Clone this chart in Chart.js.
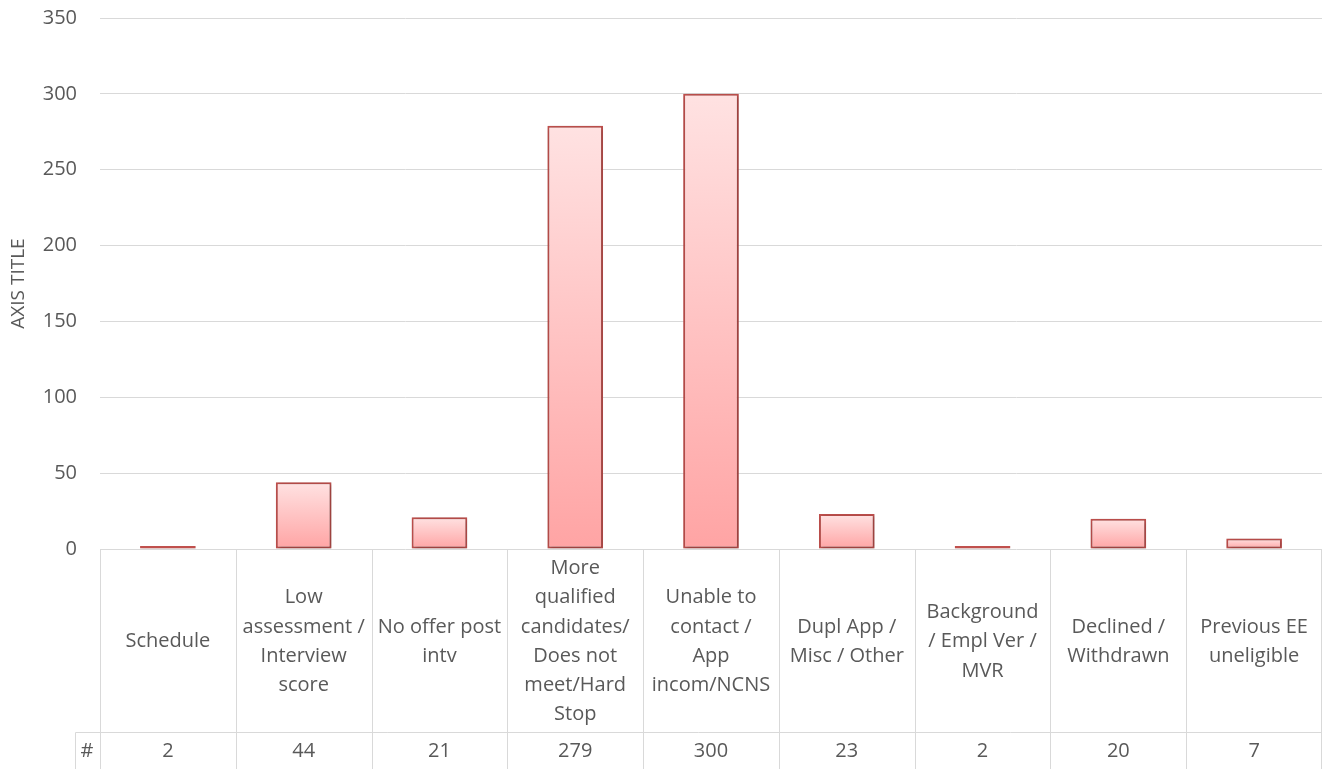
<!DOCTYPE html>
<html>
<head>
<meta charset="utf-8">
<script src="https://cdn.jsdelivr.net/npm/chart.js@4/dist/chart.umd.min.js"></script>
<style>
  html, body { margin: 0; padding: 0; background: #ffffff; }
  #wrap { width: 1327px; height: 769px; }
</style>
</head>
<body>
<div id="wrap"><canvas id="c" width="1327" height="769"></canvas></div>
<script>
// Rejection reasons (wrapped as in the data table) and their counts
const categories = [
  ["Schedule"],
  ["Low", "assessment /", "Interview", "score"],
  ["No offer post", "intv"],
  ["More", "qualified", "candidates/", "Does not", "meet/Hard", "Stop"],
  ["Unable to", "contact /", "App", "incom/NCNS"],
  ["Dupl App /", "Misc / Other"],
  ["Background", "/ Empl Ver /", "MVR"],
  ["Declined /", "Withdrawn"],
  ["Previous EE", "uneligible"]
];
const counts = [2, 44, 21, 279, 300, 23, 2, 20, 7];
const seriesName = "#";
const yTicks = [0, 50, 100, 150, 200, 250, 300, 350];
const axisTitle = "AXIS TITLE";

const TEXT = "#595959";
const GRID = "#d9d9d9";
const FONT = "'Open Sans', 'DejaVu Sans', sans-serif";
const TEXT_SIZE = 20;

// Per-bar vertical gradient, light at the top, deeper pink at the base
function barFill(ctx) {
  const chart = ctx.chart;
  const ys = chart.scales && chart.scales.y;
  if (!chart.chartArea || !ys || ctx.raw === undefined) return "#ffc4c4";
  const top = ys.getPixelForValue(ctx.raw);
  const base = ys.getPixelForValue(0);
  if (!isFinite(top) || !isFinite(base) || top === base) return "#ffc4c4";
  const g = chart.ctx.createLinearGradient(0, top, 0, base);
  g.addColorStop(0, "#ffe2e2");
  g.addColorStop(1, "#ffa4a4");
  return g;
}

// Data table under the plot: category cells plus the value row
const dataTable = {
  id: "dataTable",
  beforeDatasetsDraw(chart) {
    const c = chart.ctx;
    const xs = chart.scales.x;
    const area = chart.chartArea;
    const n = categories.length;
    const step = (area.right - area.left) / n;
    const top = area.bottom;
    const rowY = Math.round(top + 183) + 0.5;
    const bottom = chart.height;
    const keyLeft = Math.round(area.left - 25) + 0.5;

    c.save();
    c.strokeStyle = GRID;
    c.lineWidth = 1;
    c.beginPath();
    // vertical cell borders
    for (let i = 0; i <= n; i++) {
      const edge = i < n ? xs.getPixelForValue(i) - step / 2 : area.right - 1;
      const x = Math.round(edge) + 0.5;
      c.moveTo(x, top);
      c.lineTo(x, bottom);
    }
    // value row separator and the key cell
    c.moveTo(keyLeft, rowY);
    c.lineTo(area.right, rowY);
    c.moveTo(keyLeft, rowY);
    c.lineTo(keyLeft, bottom);
    c.stroke();
    c.restore();
  },
  afterDraw(chart) {
    const c = chart.ctx;
    const xs = chart.scales.x;
    const area = chart.chartArea;
    const top = area.bottom;
    const rowY = top + 183;
    const lineH = 29.3;

    c.save();
    c.fillStyle = TEXT;
    c.font = TEXT_SIZE + "px " + FONT;
    c.textAlign = "center";
    c.textBaseline = "middle";
    const cellMid = (top + rowY) / 2 + 1;
    categories.forEach((lines, i) => {
      const x = xs.getPixelForValue(i);
      const y0 = cellMid - (lines.length - 1) * lineH / 2;
      lines.forEach((t, k) => c.fillText(t, x, y0 + k * lineH));
      c.fillText(String(counts[i]), x, rowY + 19);
    });
    c.fillText(seriesName, area.left - 13, rowY + 19);
    c.restore();
  }
};

// Soft shadow under the bars
const barShadow = {
  id: "barShadow",
  beforeDatasetsDraw(chart) {
    const c = chart.ctx;
    c.save();
    c.shadowColor = "rgba(0,0,0,0.30)";
    c.shadowBlur = 4;
    c.shadowOffsetX = 1;
    c.shadowOffsetY = 1;
  },
  afterDatasetsDraw(chart) {
    chart.ctx.restore();
  }
};

new Chart(document.getElementById("c"), {
  type: "bar",
  data: {
    labels: categories.map(l => l.join(" ")),
    datasets: [{
      label: seriesName,
      data: counts,
      backgroundColor: barFill,
      borderColor: "#c0504d",
      borderWidth: 2,
      borderSkipped: false,
      categoryPercentage: 1.0,
      barPercentage: 0.41
    }]
  },
  options: {
    responsive: false,
    animation: false,
    events: [],
    layout: { padding: { top: 18, right: 5, bottom: 220, left: 0 } },
    plugins: {
      legend: { display: false },
      tooltip: { enabled: false }
    },
    scales: {
      x: { display: false },
      y: {
        min: 0,
        max: 350,
        afterBuildTicks(scale) { scale.ticks = yTicks.map(v => ({ value: v })); },
        afterFit(scale) { scale.width = 100; },
        border: { display: false },
        grid: {
          color: GRID,
          lineWidth: 1,
          drawTicks: true,
          tickLength: 20,
          tickColor: "rgba(0,0,0,0)"
        },
        ticks: {
          padding: 3,
          color: TEXT,
          font: { family: FONT, size: TEXT_SIZE }
        },
        title: {
          display: true,
          text: axisTitle,
          color: TEXT,
          font: { family: FONT, size: 19 },
          padding: { top: 7, bottom: 0 }
        }
      }
    }
  },
  plugins: [dataTable, barShadow]
});
</script>
</body>
</html>
